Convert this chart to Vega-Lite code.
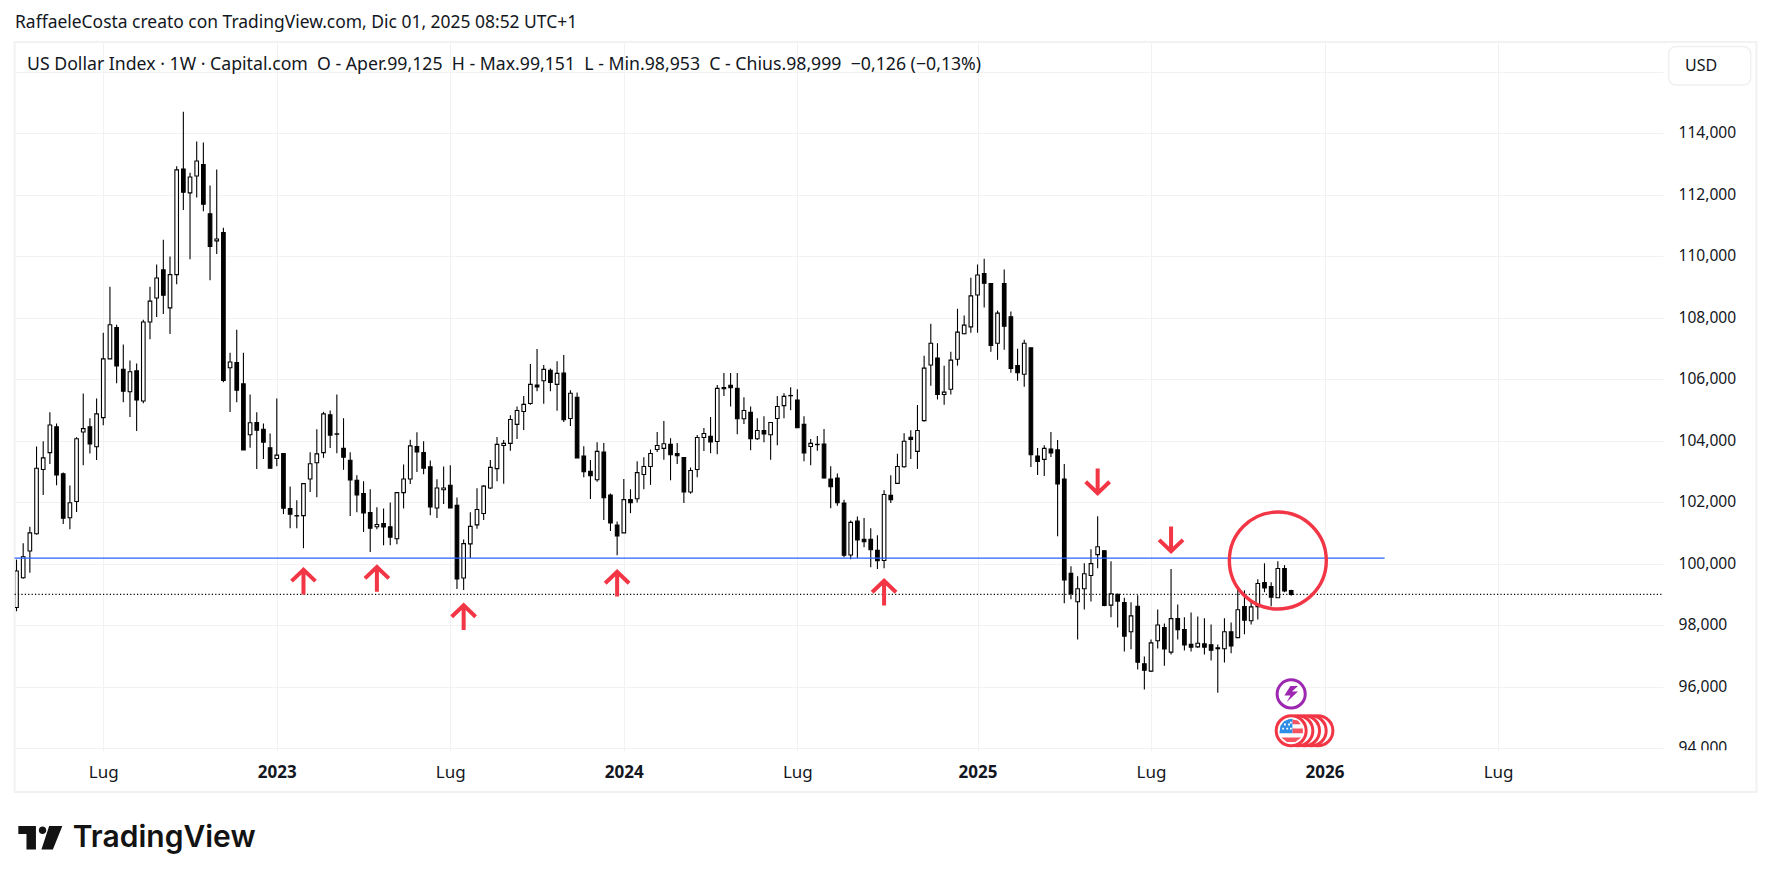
{
  "$schema": "https://vega.github.io/schema/vega-lite/v6.json",
  "width": 1648,
  "height": 706,
  "autosize": "none",
  "padding": {"left": 15, "top": 42, "right": 109, "bottom": 135},
  "background": "#ffffff",
  "config": {"view": {"stroke": null}, "font": "Noto Sans"},
  "title": {
    "text": "RaffaeleCosta creato con TradingView.com, Dic 01, 2025 08:52 UTC+1",
    "anchor": "start",
    "frame": "group",
    "offset": 10,
    "fontSize": 17.45,
    "fontWeight": "normal",
    "color": "#131722"
  },
  "datasets": {
    "candles": [
      {"d":"2022-04-04","o":98.57,"h":100.13,"l":98.45,"c":99.76},
      {"d":"2022-04-11","o":99.54,"h":100.66,"l":99.51,"c":100.22},
      {"d":"2022-04-18","o":100.41,"h":101.20,"l":99.70,"c":101.00},
      {"d":"2022-04-25","o":100.97,"h":103.81,"l":100.94,"c":103.10},
      {"d":"2022-05-02","o":103.06,"h":103.98,"l":102.23,"c":103.44},
      {"d":"2022-05-09","o":103.61,"h":104.92,"l":103.24,"c":104.51},
      {"d":"2022-05-16","o":104.45,"h":104.56,"l":102.55,"c":102.88},
      {"d":"2022-05-23","o":102.92,"h":102.96,"l":101.29,"c":101.48},
      {"d":"2022-05-30","o":101.49,"h":102.54,"l":101.12,"c":101.98},
      {"d":"2022-06-06","o":102.02,"h":104.11,"l":101.68,"c":104.06},
      {"d":"2022-06-13","o":104.28,"h":105.53,"l":103.20,"c":104.39},
      {"d":"2022-06-20","o":104.45,"h":104.73,"l":103.58,"c":103.89},
      {"d":"2022-06-27","o":103.80,"h":105.37,"l":103.37,"c":104.87},
      {"d":"2022-07-04","o":104.75,"h":107.51,"l":104.50,"c":106.66},
      {"d":"2022-07-11","o":106.66,"h":109.01,"l":106.66,"c":107.77},
      {"d":"2022-07-18","o":107.68,"h":107.77,"l":105.87,"c":106.43},
      {"d":"2022-07-25","o":106.32,"h":107.13,"l":105.25,"c":105.61},
      {"d":"2022-08-01","o":105.59,"h":106.61,"l":104.77,"c":106.24},
      {"d":"2022-08-08","o":106.27,"h":106.51,"l":104.31,"c":105.32},
      {"d":"2022-08-15","o":105.29,"h":107.93,"l":105.22,"c":107.86},
      {"d":"2022-08-22","o":107.86,"h":109.01,"l":107.30,"c":108.54},
      {"d":"2022-08-29","o":108.64,"h":109.73,"l":108.02,"c":109.29},
      {"d":"2022-09-05","o":109.56,"h":110.54,"l":108.12,"c":108.73},
      {"d":"2022-09-12","o":108.32,"h":109.99,"l":107.47,"c":109.40},
      {"d":"2022-09-19","o":109.40,"h":112.93,"l":109.09,"c":112.81},
      {"d":"2022-09-26","o":112.84,"h":114.70,"l":111.50,"c":112.08},
      {"d":"2022-10-03","o":112.06,"h":112.72,"l":109.90,"c":112.58},
      {"d":"2022-10-10","o":112.61,"h":113.73,"l":111.91,"c":113.10},
      {"d":"2022-10-17","o":112.98,"h":113.70,"l":111.46,"c":111.69},
      {"d":"2022-10-24","o":111.38,"h":112.30,"l":109.22,"c":110.32},
      {"d":"2022-10-31","o":110.50,"h":112.82,"l":110.07,"c":110.56},
      {"d":"2022-11-07","o":110.77,"h":110.93,"l":105.90,"c":105.96},
      {"d":"2022-11-14","o":106.37,"h":106.86,"l":104.93,"c":106.56},
      {"d":"2022-11-21","o":106.54,"h":107.61,"l":105.25,"c":105.64},
      {"d":"2022-11-28","o":105.85,"h":106.86,"l":103.70,"c":103.70},
      {"d":"2022-12-05","o":104.19,"h":105.50,"l":103.77,"c":104.58},
      {"d":"2022-12-12","o":104.59,"h":104.92,"l":103.08,"c":104.34},
      {"d":"2022-12-19","o":104.37,"h":104.56,"l":103.40,"c":103.95},
      {"d":"2022-12-26","o":103.77,"h":104.23,"l":103.10,"c":103.10},
      {"d":"2023-01-02","o":103.42,"h":105.37,"l":103.17,"c":103.53},
      {"d":"2023-01-09","o":103.58,"h":103.58,"l":101.61,"c":101.80},
      {"d":"2023-01-16","o":101.79,"h":102.51,"l":101.15,"c":101.61},
      {"d":"2023-01-23","o":101.56,"h":102.06,"l":101.15,"c":101.55},
      {"d":"2023-01-30","o":101.56,"h":102.62,"l":100.50,"c":102.60},
      {"d":"2023-02-06","o":102.75,"h":103.62,"l":102.33,"c":103.25},
      {"d":"2023-02-13","o":103.28,"h":104.37,"l":102.16,"c":103.57},
      {"d":"2023-02-20","o":103.61,"h":104.94,"l":103.44,"c":104.87},
      {"d":"2023-02-27","o":104.84,"h":104.98,"l":103.76,"c":104.18},
      {"d":"2023-03-06","o":104.22,"h":105.50,"l":103.59,"c":104.21},
      {"d":"2023-03-13","o":103.75,"h":104.73,"l":103.05,"c":103.46},
      {"d":"2023-03-20","o":103.36,"h":103.62,"l":101.55,"c":102.72},
      {"d":"2023-03-27","o":102.71,"h":102.87,"l":101.67,"c":102.23},
      {"d":"2023-04-03","o":102.28,"h":102.68,"l":101.03,"c":101.65},
      {"d":"2023-04-10","o":101.66,"h":102.42,"l":100.38,"c":101.15},
      {"d":"2023-04-17","o":101.20,"h":101.83,"l":101.12,"c":101.27},
      {"d":"2023-04-24","o":101.30,"h":101.79,"l":100.60,"c":101.19},
      {"d":"2023-05-01","o":101.20,"h":101.99,"l":100.60,"c":100.86},
      {"d":"2023-05-08","o":100.81,"h":102.31,"l":100.63,"c":102.31},
      {"d":"2023-05-15","o":102.31,"h":103.22,"l":101.79,"c":102.75},
      {"d":"2023-05-22","o":102.75,"h":104.03,"l":102.59,"c":103.83},
      {"d":"2023-05-29","o":103.81,"h":104.27,"l":102.98,"c":103.63},
      {"d":"2023-06-05","o":103.61,"h":103.98,"l":102.91,"c":103.10},
      {"d":"2023-06-12","o":103.15,"h":103.35,"l":101.57,"c":101.84},
      {"d":"2023-06-19","o":101.81,"h":102.74,"l":101.48,"c":102.46},
      {"d":"2023-06-26","o":102.40,"h":103.16,"l":101.94,"c":102.46},
      {"d":"2023-07-03","o":102.55,"h":103.20,"l":101.81,"c":101.81},
      {"d":"2023-07-10","o":101.90,"h":102.15,"l":99.17,"c":99.50},
      {"d":"2023-07-17","o":99.53,"h":100.78,"l":99.14,"c":100.65},
      {"d":"2023-07-24","o":100.64,"h":101.67,"l":100.18,"c":101.21},
      {"d":"2023-07-31","o":101.26,"h":102.45,"l":101.13,"c":101.76},
      {"d":"2023-08-07","o":101.63,"h":102.55,"l":101.42,"c":102.52},
      {"d":"2023-08-14","o":102.46,"h":103.37,"l":102.43,"c":103.13},
      {"d":"2023-08-21","o":103.09,"h":104.12,"l":102.68,"c":103.88},
      {"d":"2023-08-28","o":103.84,"h":104.02,"l":102.60,"c":103.91},
      {"d":"2023-09-04","o":103.91,"h":104.83,"l":103.67,"c":104.69},
      {"d":"2023-09-11","o":104.53,"h":105.11,"l":104.05,"c":104.98},
      {"d":"2023-09-18","o":104.95,"h":105.45,"l":104.35,"c":105.18},
      {"d":"2023-09-25","o":105.21,"h":106.49,"l":105.17,"c":105.83},
      {"d":"2023-10-02","o":105.81,"h":106.98,"l":105.61,"c":105.75},
      {"d":"2023-10-09","o":105.95,"h":106.46,"l":105.20,"c":106.32},
      {"d":"2023-10-16","o":106.29,"h":106.35,"l":105.61,"c":105.89},
      {"d":"2023-10-23","o":105.83,"h":106.58,"l":104.97,"c":106.19},
      {"d":"2023-10-30","o":106.20,"h":106.79,"l":104.61,"c":104.68},
      {"d":"2023-11-06","o":104.72,"h":105.64,"l":104.48,"c":105.54},
      {"d":"2023-11-13","o":105.41,"h":105.57,"l":103.44,"c":103.44},
      {"d":"2023-11-20","o":103.50,"h":103.82,"l":102.81,"c":102.99},
      {"d":"2023-11-27","o":103.00,"h":103.37,"l":102.10,"c":102.86},
      {"d":"2023-12-04","o":102.73,"h":103.95,"l":102.66,"c":103.65},
      {"d":"2023-12-11","o":103.63,"h":103.92,"l":101.42,"c":102.14},
      {"d":"2023-12-18","o":102.23,"h":102.28,"l":101.06,"c":101.32},
      {"d":"2023-12-25","o":101.25,"h":101.37,"l":100.27,"c":100.90},
      {"d":"2024-01-01","o":101.00,"h":102.75,"l":101.00,"c":102.08},
      {"d":"2024-01-08","o":102.08,"h":102.42,"l":101.64,"c":101.98},
      {"d":"2024-01-15","o":102.11,"h":103.33,"l":101.99,"c":102.96},
      {"d":"2024-01-22","o":102.90,"h":103.46,"l":102.42,"c":103.16},
      {"d":"2024-01-29","o":103.16,"h":103.71,"l":102.56,"c":103.58},
      {"d":"2024-02-05","o":103.71,"h":104.28,"l":103.63,"c":103.84},
      {"d":"2024-02-12","o":103.75,"h":104.64,"l":103.38,"c":103.90},
      {"d":"2024-02-19","o":103.88,"h":104.08,"l":102.71,"c":103.54},
      {"d":"2024-02-26","o":103.58,"h":103.92,"l":103.24,"c":103.51},
      {"d":"2024-03-04","o":103.45,"h":103.46,"l":101.97,"c":102.33},
      {"d":"2024-03-11","o":102.33,"h":103.13,"l":102.27,"c":103.03},
      {"d":"2024-03-18","o":103.06,"h":104.18,"l":102.81,"c":104.10},
      {"d":"2024-03-25","o":104.10,"h":104.41,"l":103.66,"c":104.23},
      {"d":"2024-04-01","o":104.14,"h":104.77,"l":103.59,"c":103.96},
      {"d":"2024-04-08","o":103.97,"h":105.81,"l":103.56,"c":105.70},
      {"d":"2024-04-15","o":105.73,"h":106.20,"l":105.45,"c":105.69},
      {"d":"2024-04-22","o":105.80,"h":106.20,"l":105.11,"c":105.72},
      {"d":"2024-04-29","o":105.70,"h":106.20,"l":104.21,"c":104.71},
      {"d":"2024-05-06","o":104.71,"h":105.41,"l":104.54,"c":104.98},
      {"d":"2024-05-13","o":104.92,"h":105.11,"l":103.69,"c":104.06},
      {"d":"2024-05-20","o":104.06,"h":104.73,"l":104.02,"c":104.33},
      {"d":"2024-05-27","o":104.33,"h":104.79,"l":103.95,"c":104.22},
      {"d":"2024-06-03","o":104.19,"h":104.59,"l":103.38,"c":104.59},
      {"d":"2024-06-10","o":104.72,"h":105.45,"l":103.85,"c":105.11},
      {"d":"2024-06-17","o":105.14,"h":105.54,"l":104.73,"c":105.44},
      {"d":"2024-06-24","o":105.47,"h":105.74,"l":104.99,"c":105.46},
      {"d":"2024-07-01","o":105.32,"h":105.67,"l":104.42,"c":104.42},
      {"d":"2024-07-08","o":104.53,"h":104.79,"l":103.33,"c":103.60},
      {"d":"2024-07-15","o":103.81,"h":104.05,"l":103.20,"c":103.91},
      {"d":"2024-07-22","o":103.88,"h":104.15,"l":103.67,"c":103.87},
      {"d":"2024-07-29","o":103.89,"h":104.38,"l":102.77,"c":102.79},
      {"d":"2024-08-05","o":102.75,"h":103.17,"l":101.80,"c":102.50},
      {"d":"2024-08-12","o":102.78,"h":102.93,"l":101.88,"c":101.98},
      {"d":"2024-08-19","o":101.97,"h":102.08,"l":100.21,"c":100.27},
      {"d":"2024-08-26","o":100.28,"h":101.40,"l":100.14,"c":101.34},
      {"d":"2024-09-02","o":101.38,"h":101.53,"l":100.18,"c":100.77},
      {"d":"2024-09-09","o":100.79,"h":101.48,"l":100.53,"c":100.71},
      {"d":"2024-09-16","o":100.79,"h":101.15,"l":99.88,"c":100.45},
      {"d":"2024-09-23","o":100.43,"h":100.92,"l":99.82,"c":100.09},
      {"d":"2024-09-30","o":100.10,"h":102.39,"l":99.85,"c":102.25},
      {"d":"2024-10-07","o":102.22,"h":102.87,"l":101.97,"c":102.08},
      {"d":"2024-10-14","o":102.61,"h":103.57,"l":102.61,"c":103.16},
      {"d":"2024-10-21","o":103.15,"h":104.24,"l":103.12,"c":103.98},
      {"d":"2024-10-28","o":104.11,"h":104.34,"l":103.40,"c":104.04},
      {"d":"2024-11-04","o":103.65,"h":105.16,"l":103.08,"c":104.33},
      {"d":"2024-11-11","o":104.65,"h":106.76,"l":104.62,"c":106.36},
      {"d":"2024-11-18","o":106.46,"h":107.80,"l":105.79,"c":107.17},
      {"d":"2024-11-25","o":106.69,"h":107.17,"l":105.34,"c":105.50},
      {"d":"2024-12-02","o":105.50,"h":106.44,"l":105.17,"c":105.58},
      {"d":"2024-12-09","o":105.67,"h":106.89,"l":105.50,"c":106.62},
      {"d":"2024-12-16","o":106.65,"h":108.29,"l":106.44,"c":107.53},
      {"d":"2024-12-23","o":107.48,"h":108.07,"l":107.46,"c":107.76},
      {"d":"2024-12-30","o":107.70,"h":109.30,"l":107.51,"c":108.71},
      {"d":"2025-01-06","o":108.74,"h":109.73,"l":107.51,"c":109.39},
      {"d":"2025-01-13","o":109.44,"h":109.92,"l":108.33,"c":109.12},
      {"d":"2025-01-20","o":109.11,"h":109.11,"l":106.89,"c":107.10},
      {"d":"2025-01-27","o":107.17,"h":108.23,"l":106.63,"c":108.15},
      {"d":"2025-02-03","o":109.11,"h":109.57,"l":106.96,"c":107.72},
      {"d":"2025-02-10","o":108.03,"h":108.20,"l":106.21,"c":106.35},
      {"d":"2025-02-17","o":106.44,"h":106.99,"l":105.95,"c":106.21},
      {"d":"2025-02-24","o":106.16,"h":107.28,"l":105.75,"c":107.17},
      {"d":"2025-03-03","o":107.02,"h":107.02,"l":103.14,"c":103.54},
      {"d":"2025-03-10","o":103.50,"h":103.76,"l":102.88,"c":103.32},
      {"d":"2025-03-17","o":103.39,"h":103.85,"l":102.85,"c":103.75},
      {"d":"2025-03-24","o":103.73,"h":104.28,"l":103.47,"c":103.60},
      {"d":"2025-03-31","o":103.70,"h":104.02,"l":100.89,"c":102.59},
      {"d":"2025-04-07","o":102.75,"h":103.24,"l":98.71,"c":99.47},
      {"d":"2025-04-14","o":99.68,"h":99.91,"l":98.84,"c":99.02},
      {"d":"2025-04-21","o":98.76,"h":99.59,"l":97.53,"c":99.18},
      {"d":"2025-04-28","o":99.18,"h":100.01,"l":98.51,"c":99.67},
      {"d":"2025-05-05","o":99.61,"h":100.47,"l":98.77,"c":100.00},
      {"d":"2025-05-12","o":100.29,"h":101.54,"l":99.85,"c":100.55},
      {"d":"2025-05-19","o":100.42,"h":100.43,"l":98.61,"c":98.64},
      {"d":"2025-05-26","o":98.65,"h":100.08,"l":98.25,"c":99.02},
      {"d":"2025-06-02","o":99.00,"h":99.02,"l":97.92,"c":98.78},
      {"d":"2025-06-09","o":98.73,"h":98.89,"l":97.14,"c":97.64},
      {"d":"2025-06-16","o":97.78,"h":98.74,"l":97.21,"c":98.30},
      {"d":"2025-06-23","o":98.61,"h":98.97,"l":96.55,"c":96.79},
      {"d":"2025-06-30","o":96.74,"h":96.98,"l":95.90,"c":96.53},
      {"d":"2025-07-07","o":96.50,"h":97.53,"l":96.47,"c":97.42},
      {"d":"2025-07-14","o":97.49,"h":98.51,"l":97.24,"c":98.00},
      {"d":"2025-07-21","o":97.92,"h":98.05,"l":96.68,"c":97.22},
      {"d":"2025-07-28","o":97.12,"h":99.82,"l":97.04,"c":98.21},
      {"d":"2025-08-04","o":98.21,"h":98.67,"l":97.53,"c":97.85},
      {"d":"2025-08-11","o":97.85,"h":98.25,"l":97.17,"c":97.35},
      {"d":"2025-08-18","o":97.37,"h":98.41,"l":97.14,"c":97.28},
      {"d":"2025-08-25","o":97.29,"h":98.28,"l":97.26,"c":97.41},
      {"d":"2025-09-01","o":97.39,"h":98.22,"l":97.04,"c":97.28},
      {"d":"2025-09-08","o":97.36,"h":98.02,"l":96.85,"c":97.18},
      {"d":"2025-09-15","o":97.26,"h":97.37,"l":95.80,"c":97.23},
      {"d":"2025-09-22","o":97.23,"h":98.22,"l":96.78,"c":97.78},
      {"d":"2025-09-29","o":97.78,"h":98.08,"l":97.08,"c":97.32},
      {"d":"2025-10-06","o":97.59,"h":99.23,"l":97.58,"c":98.50},
      {"d":"2025-10-13","o":98.60,"h":99.13,"l":97.70,"c":98.16},
      {"d":"2025-10-20","o":98.14,"h":98.80,"l":98.02,"c":98.59},
      {"d":"2025-10-27","o":98.60,"h":99.49,"l":98.18,"c":99.35},
      {"d":"2025-11-03","o":99.38,"h":100.01,"l":99.07,"c":99.21},
      {"d":"2025-11-10","o":99.25,"h":99.39,"l":98.61,"c":98.91},
      {"d":"2025-11-17","o":98.89,"h":100.08,"l":98.89,"c":99.84},
      {"d":"2025-11-24","o":99.84,"h":99.95,"l":99.07,"c":99.11},
      {"d":"2025-12-01","o":99.125,"h":99.151,"l":98.953,"c":98.999}
    ],
    "frame": [{"d":"2022-04-02","d2":"2027-04-03","p":116.97,"p2":92.57}],
    "blue": [{"d":"2022-04-02","d2":"2026-03-09","p":100.18}],
    "dots": [{"d":"2022-04-02","d2":"2026-12-26","p":98.999}],
    "mask": [{"d":"2026-12-28","d2":"2027-03-30","p":93.93,"p2":93.3}],
    "box": [{"d":"2027-01-01","d2":"2027-03-28","p":116.82,"p2":115.57}],
    "up": [
      {"d":"2023-01-30","p":99.42},
      {"d":"2023-04-17","p":99.51},
      {"d":"2023-07-17","p":98.26},
      {"d":"2023-12-25","p":99.35},
      {"d":"2024-09-30","p":99.06}
    ],
    "down": [
      {"d":"2025-05-12","p":102.67},
      {"d":"2025-07-28","p":100.78}
    ],
    "ring": [{"d":"2025-11-17","p":100.10}],
    "bolt": [{"d":"2025-12-01","p":95.76}],
    "flags": [
      {"d":"2025-12-29","p":94.56},
      {"d":"2025-12-22","p":94.56},
      {"d":"2025-12-15","p":94.56},
      {"d":"2025-12-08","p":94.56},
      {"d":"2025-12-01","p":94.56}
    ],
    "flag": [{"d":"2025-12-01","p":94.56}],
    "legendText": [{"d":"2022-04-15","p":116.22,"t":"US Dollar Index · 1W · Capital.com \u00a0O - Aper.99,125 \u00a0H - Max.99,151 \u00a0L - Min.98,953 \u00a0C - Chius.98,999 \u00a0−0,126 (−0,13%)"}],
    "usd": [{"d":"2027-02-04","p":116.19,"t":"USD"}],
    "logo": [{"d":"2022-04-29","p":91.07}],
    "brand": [{"d":"2022-06-02","p":91.07,"t":"TradingView"}]
  },
  "encoding": {
    "x": {
      "field": "d",
      "type": "temporal",
      "title": null,
      "scale": {
        "padding": 0,
        "nice": false,
        "domain": [
          {"year": 2022, "month": 4, "date": 2, "hours": 10, "utc": true},
          {"year": 2026, "month": 12, "date": 26, "utc": true}
        ]
      },
      "axis": {
        "values": [
          {"year": 2022, "month": 7, "date": 4, "utc": true},
          {"year": 2023, "month": 1, "date": 2, "utc": true},
          {"year": 2023, "month": 7, "date": 3, "utc": true},
          {"year": 2024, "month": 1, "date": 1, "utc": true},
          {"year": 2024, "month": 7, "date": 1, "utc": true},
          {"year": 2025, "month": 1, "date": 6, "utc": true},
          {"year": 2025, "month": 7, "date": 7, "utc": true},
          {"year": 2026, "month": 1, "date": 5, "utc": true},
          {"year": 2026, "month": 7, "date": 6, "utc": true}
        ],
        "labelExpr": "utcmonth(datum.value) == 6 ? 'Lug' : '' + utcyear(datum.value)",
        "labelFontWeight": {"condition": {"test": "utcmonth(datum.value) == 0", "value": "bold"}, "value": "normal"},
        "labelFontSize": 17,
        "labelColor": "#131722",
        "labelPadding": 21,
        "labelBaseline": "middle",
        "labelFlush": false,
        "labelOverlap": false,
        "domain": false,
        "tickSize": 3,
        "tickColor": "#f2f2f2",
        "grid": true,
        "gridColor": "#f2f2f2",
        "gridWidth": 1
      }
    },
    "y": {
      "field": "p",
      "type": "quantitative",
      "title": null,
      "scale": {"domain": [94, 116.97], "nice": false, "zero": false},
      "axis": {
        "orient": "right",
        "values": [94, 96, 98, 100, 102, 104, 106, 108, 110, 112, 114, 116],
        "labelExpr": "datum.value > 115 ? '' : replace(format(datum.value, '.3f'), '.', ',')",
        "labelFontSize": 15.6,
        "labelColor": "#131722",
        "labelPadding": 15,
        "labelOffset": -0.5,
        "labelOverlap": false,
        "labelFlush": false,
        "domain": false,
        "ticks": false,
        "grid": true,
        "gridColor": "#f2f2f2",
        "gridWidth": 1
      }
    }
  },
  "layer": [
    {
      "data": {"name": "frame"},
      "mark": {"type": "rect", "fill": null, "fillOpacity": 0, "stroke": "#f2f2f2", "strokeWidth": 2},
      "encoding": {"x2": {"field": "d2"}, "y2": {"field": "p2"}}
    },
    {
      "data": {"name": "candles"},
      "mark": {"type": "rule", "color": "#000000", "strokeWidth": 1.1, "clip": true},
      "encoding": {
        "y": {"field": "l", "type": "quantitative", "title": null, "scale": {"domain": [94, 116.97], "nice": false, "zero": false}},
        "y2": {"field": "h"}
      }
    },
    {
      "data": {"name": "candles"},
      "mark": {"type": "bar", "size": 3.6, "stroke": "#000000", "strokeWidth": 1.1, "clip": true, "orient": "vertical"},
      "encoding": {
        "y": {"field": "o", "type": "quantitative", "title": null, "scale": {"domain": [94, 116.97], "nice": false, "zero": false}},
        "y2": {"field": "c"},
        "fill": {"condition": {"test": "datum.c > datum.o", "value": "#ffffff"}, "value": "#000000"}
      }
    },
    {
      "data": {"name": "blue"},
      "mark": {"type": "rule", "color": "#2962ff", "strokeWidth": 1.2},
      "encoding": {"x2": {"field": "d2"}}
    },
    {
      "data": {"name": "dots"},
      "mark": {"type": "rule", "color": "#000000", "strokeWidth": 1.1, "strokeDash": [1.2, 2.2]},
      "encoding": {"x2": {"field": "d2"}}
    },
    {
      "data": {"name": "mask"},
      "mark": {"type": "rect", "fill": "#ffffff"},
      "encoding": {"x2": {"field": "d2"}, "y2": {"field": "p2"}}
    },
    {
      "data": {"name": "box"},
      "mark": {"type": "rect", "fill": "#ffffff", "stroke": "#f0f0f0", "strokeWidth": 1.5, "cornerRadius": 7},
      "encoding": {"x2": {"field": "d2"}, "y2": {"field": "p2"}}
    },
    {
      "data": {"name": "up"},
      "mark": {"type": "point", "filled": false, "opacity": 1, "size": 676, "stroke": "#f23645", "strokeWidth": 4, "shape": "M0,1L0,-0.9M-0.92,-0.02L0,-0.9L0.92,-0.02"}
    },
    {
      "data": {"name": "down"},
      "mark": {"type": "point", "filled": false, "opacity": 1, "size": 676, "stroke": "#f23645", "strokeWidth": 4, "shape": "M0,-1L0,0.9M-0.92,0.02L0,0.9L0.92,0.02"}
    },
    {
      "data": {"name": "ring"},
      "mark": {"type": "point", "shape": "circle", "filled": false, "opacity": 1, "size": 9400, "stroke": "#f23645", "strokeWidth": 3.4}
    },
    {
      "data": {"name": "bolt"},
      "mark": {"type": "point", "shape": "circle", "filled": true, "fill": "#ffffff", "opacity": 1, "size": 790, "stroke": "#9c27b0", "strokeWidth": 3}
    },
    {
      "data": {"name": "bolt"},
      "mark": {"type": "point", "filled": true, "fill": "#9c27b0", "opacity": 1, "size": 256, "strokeWidth": 0, "shape": "M0.85,-1L-0.1,-1L-0.85,0.2L-0.1,0.2L-0.55,1L0.85,-0.3L0.1,-0.3Z"}
    },
    {
      "data": {"name": "flags"},
      "mark": {"type": "point", "shape": "circle", "filled": true, "fill": "#ffffff", "opacity": 1, "size": 900, "stroke": "#f23645", "strokeWidth": 3}
    },
    {
      "data": {"name": "flag"},
      "mark": {"type": "point", "filled": true, "fill": "#f7525f", "opacity": 1, "size": 576, "strokeWidth": 0, "shape": "M0.1,-0.95L0.55,-0.85L0.8,-0.55L0.1,-0.55Z M0.1,-0.2L0.97,-0.2L0.98,0.2L0.1,0.2Z M-0.83,0.55L0.83,0.55L0.35,0.93L-0.35,0.93Z"}
    },
    {
      "data": {"name": "flag"},
      "mark": {"type": "point", "filled": true, "fill": "#2e8de6", "opacity": 1, "size": 576, "strokeWidth": 0, "shape": "M0.1,0.2L-0.98,0.2L-0.9,-0.4L-0.6,-0.8L-0.2,-0.97L0.1,-1Z"}
    },
    {
      "data": {"name": "flag"},
      "mark": {"type": "point", "filled": true, "fill": "#ffffff", "opacity": 1, "size": 576, "strokeWidth": 0, "shape": "M-0.6,-0.6h0.15v0.15h-0.15Z M-0.25,-0.6h0.15v0.15h-0.15Z M-0.75,-0.25h0.15v0.15h-0.15Z M-0.4,-0.25h0.15v0.15h-0.15Z M-0.1,-0.25h0.15v0.15h-0.15Z M-0.1,-0.75h0.15v0.15h-0.15Z"}
    },
    {
      "data": {"name": "legendText"},
      "mark": {"type": "text", "align": "left", "baseline": "middle", "fontSize": 17.7, "color": "#131722"},
      "encoding": {"text": {"field": "t"}}
    },
    {
      "data": {"name": "usd"},
      "mark": {"type": "text", "align": "center", "baseline": "middle", "fontSize": 16, "color": "#131722"},
      "encoding": {"text": {"field": "t"}}
    },
    {
      "data": {"name": "logo"},
      "mark": {"type": "point", "filled": true, "fill": "#131313", "opacity": 1, "size": 1936, "strokeWidth": 0, "shape": "M-1,-0.55H-0.2V0.52H-0.63V-0.18H-1Z M-0.07,-0.36A0.17,0.17 0 1 1 0.27,-0.36A0.17,0.17 0 1 1 -0.07,-0.36Z M0.4,-0.55H1L0.57,0.52H0.05Z"}
    },
    {
      "data": {"name": "brand"},
      "mark": {"type": "text", "align": "left", "baseline": "middle", "fontSize": 30, "fontWeight": 600, "font": "Inter", "color": "#131313"},
      "encoding": {"text": {"field": "t"}}
    }
  ]
}
